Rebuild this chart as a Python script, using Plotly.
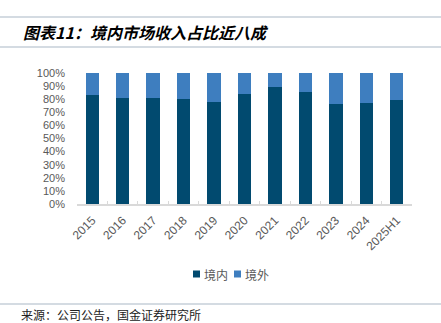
import plotly.graph_objects as go

years = ["2015", "2016", "2017", "2018", "2019", "2020", "2021", "2022", "2023", "2024", "2025H1"]
domestic = [83.4, 80.8, 80.9, 80.2, 77.6, 84.0, 89.6, 85.2, 76.3, 77.3, 79.4]
overseas = [16.6, 19.2, 19.1, 19.8, 22.4, 16.0, 10.4, 14.8, 23.7, 22.7, 20.6]
y_ticks = [0, 10, 20, 30, 40, 50, 60, 70, 80, 90, 100]
y_tick_labels = ["0%", "10%", "20%", "30%", "40%", "50%", "60%", "70%", "80%", "90%", "100%"]
series_names = ["境内", "境外"]
series_colors = ["#014a6f", "#3e7ebf"]

FONT = "Liberation Sans, Arial, Noto Sans CJK SC"
GREY = "#595959"

W, H = 441, 323
L, R, T, B = 77, 29, 73, 119
PW, PH = W - L - R, H - T - B


def px_x(x):
    return (x - L) / PW


def px_y(y):
    return 1 - (y - T) / PH


fig = go.Figure()
for name, vals, col in zip(series_names, [domestic, overseas], series_colors):
    fig.add_trace(go.Bar(x=years, y=vals, name=name, marker=dict(color=col, line=dict(width=0))))

fig.update_layout(
    width=W, height=H,
    margin=dict(l=L, r=R, t=T, b=B, pad=0),
    barmode="stack",
    bargap=0.56,
    plot_bgcolor="white",
    paper_bgcolor="white",
    font=dict(family=FONT, size=11, color=GREY),
    showlegend=False,
    xaxis=dict(type="category", tickangle=-45, tickfont=dict(size=12, color=GREY),
               showline=True, linecolor="#d9d9d9", linewidth=1.5,
               ticks="inside", ticklen=3, tickcolor="#d9d9d9", tickson="boundaries",
               showgrid=False, ticklabelstandoff=3),
    yaxis=dict(range=[0, 100], tickvals=y_ticks, ticktext=y_tick_labels, showgrid=False,
               showline=False, zeroline=False, tickfont=dict(size=11, color=GREY),
               ticks="", ticklabelstandoff=11),
)

line_col = "#a9b7c6"
for yy in (17, 47, 304):
    fig.add_shape(type="line", xref="paper", yref="paper",
                  x0=px_x(0), x1=px_x(W), y0=px_y(yy), y1=px_y(yy),
                  line=dict(color=line_col, width=1.2))

# manual legend (squares + labels)
leg_sq_x = [193, 234]
leg_y = 274
for name, col, sx in zip(series_names, series_colors, leg_sq_x):
    fig.add_shape(type="rect", xref="paper", yref="paper",
                  x0=px_x(sx), x1=px_x(sx + 7), y0=px_y(leg_y + 3.5), y1=px_y(leg_y - 3.5),
                  fillcolor=col, line=dict(width=0))
    fig.add_annotation(text=name, xref="paper", yref="paper",
                       x=px_x(sx + 9), y=px_y(leg_y), xanchor="left", yanchor="middle",
                       showarrow=False, font=dict(size=12, color=GREY, family="Noto Sans CJK SC"))

fig.add_annotation(text="<b><i>图表11：境内市场收入占比近八成</i></b>", xref="paper", yref="paper",
                   x=px_x(21), y=px_y(32), xanchor="left", yanchor="middle", showarrow=False,
                   font=dict(size=16, color="#000000", family="Noto Sans CJK SC"))
fig.add_annotation(text="来源：公司公告，国金证券研究所", xref="paper", yref="paper",
                   x=px_x(19), y=px_y(314), xanchor="left", yanchor="middle", showarrow=False,
                   font=dict(size=12, color="#222222", family="Noto Sans CJK SC"))

fig.write_html("out.html")
